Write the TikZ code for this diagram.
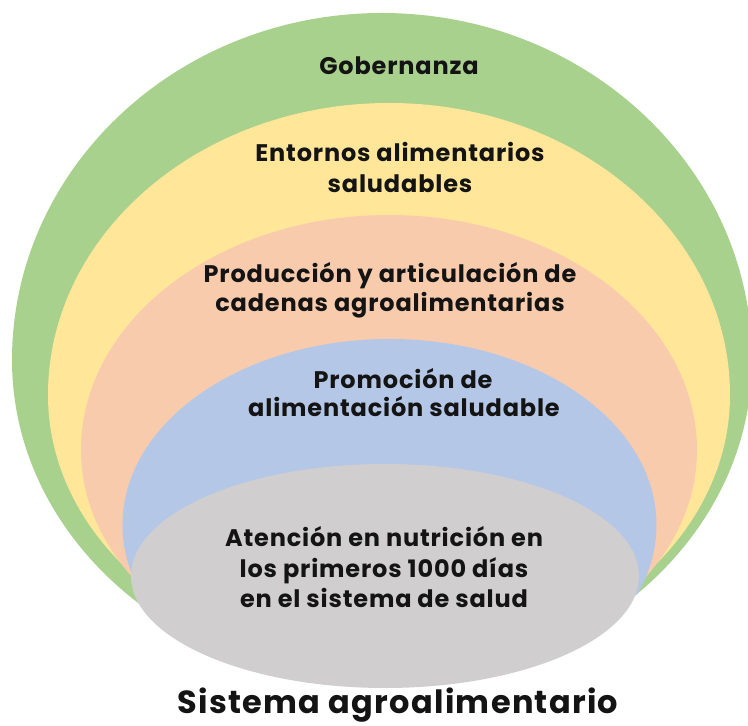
\documentclass[tikz,border=0pt]{standalone}
\usepackage{fontspec}
\setmainfont{Poppins}
\definecolor{cgreen}{HTML}{A9D18E}
\definecolor{cyellow}{HTML}{FFE699}
\definecolor{cpeach}{HTML}{F8CBAD}
\definecolor{cblue}{HTML}{B4C7E7}
\definecolor{cgrey}{HTML}{D0CECE}
\definecolor{ctext}{HTML}{141414}
\tikzset{
  lbl/.style={anchor=base, inner sep=0pt, text=ctext, font=\fontsize{24}{28}\selectfont\bfseries\addfontfeature{LetterSpace=3.5}},
  title/.style={anchor=base, inner sep=0pt, text=ctext, font=\fontsize{32}{36}\selectfont\bfseries\addfontfeature{LetterSpace=4}},
}
\begin{document}
\begin{tikzpicture}[x=1pt,y=1pt]
\useasboundingbox (0,0) rectangle (748,726);
% green outer
\def\greenpath{(752,366) arc[start angle=0,end angle=180,x radius=370,y radius=347] arc[start angle=180,end angle=360,x radius=370,y radius=323] -- cycle}
\fill[cgreen] \greenpath;
\begin{scope}
\clip \greenpath;
\fill[cyellow] (730,331) arc[start angle=0,end angle=180,x radius=341,y radius=292] arc[start angle=180,end angle=360,x radius=341,y radius=272] -- cycle;
\fill[cpeach] (697,276) arc[start angle=0,end angle=180,x radius=308,y radius=235] arc[start angle=180,end angle=360,x radius=308,y radius=230] -- cycle;
\fill[cblue] (389.5,201) ellipse[x radius=267,y radius=186];
\end{scope}
\fill[cgrey] (385,150) ellipse[x radius=254,y radius=112];
% labels
\node[lbl] (gob) at (399,651) {Gobernanza};
\node[lbl] (ent1) at (400,564) {Entornos alimentarios};
\node[lbl] (ent2) at (400,533) {saludables};
\node[lbl] (pro1) at (390,443) {Producción y articulación de};
\node[lbl] (pro2) at (390,414) {cadenas agroalimentarias};
\node[lbl] (prm1) at (403,337) {Promoción de};
\node[lbl] (prm2) at (404,309) {alimentación saludable};
\node[lbl] (ate1) at (384,179) {Atención en nutrición en};
\node[lbl] (ate2) at (384,148) {los primeros 1000 días};
\node[lbl] (ate3) at (384,118) {en el sistema de salud};
\node[title] (sis) at (398,12) {Sistema agroalimentario};
\end{tikzpicture}
\end{document}
